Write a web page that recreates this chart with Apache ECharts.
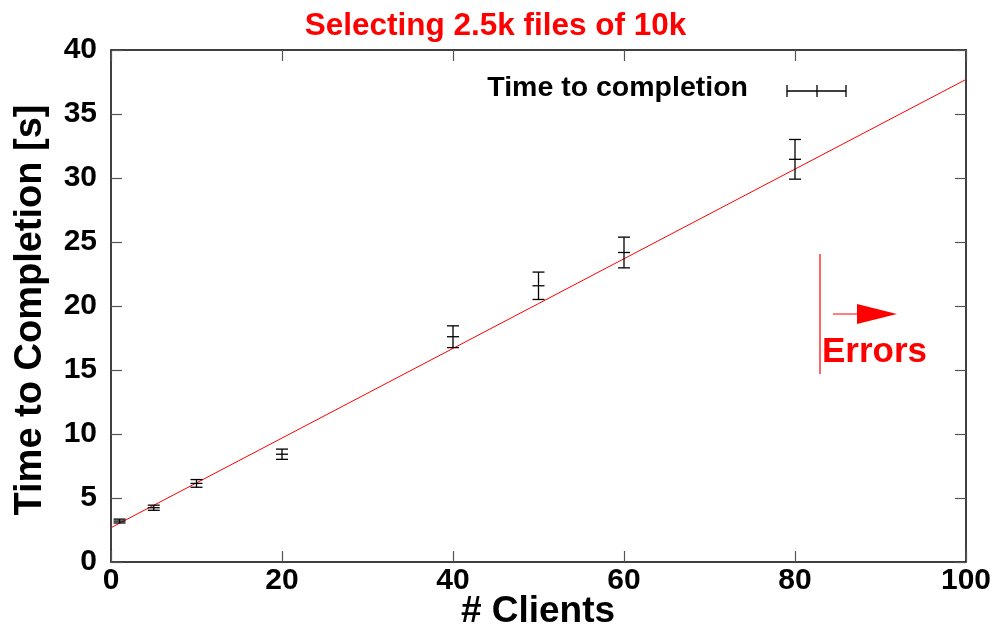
<!DOCTYPE html>
<html>
<head>
<meta charset="utf-8">
<script src="https://cdn.jsdelivr.net/npm/echarts@6/dist/echarts.min.js"></script>
<style>
  html, body { margin: 0; padding: 0; background: #fff; }
  #chart { width: 1000px; height: 629px; }
</style>
</head>
<body>
<div id="chart"></div>
<script>
// 数据：客户端数量、平均完成时间、误差
var clients = [1, 5, 10, 20, 40, 50, 60, 80];
var meanTime = [3.2, 4.24, 6.14, 8.42, 17.6, 21.58, 24.18, 31.46];
var errTime = [0.15, 0.2, 0.3, 0.4, 0.85, 1.07, 1.2, 1.55];

// 拟合直线
var fitX = [0, 100];
var fitY = [2.68, 37.7];

var FONT = '"Liberation Sans", Arial, sans-serif';

var chart = echarts.init(document.getElementById('chart'));

var barData = clients.map(function (c, i) {
    return [c, meanTime[i], meanTime[i] - errTime[i], meanTime[i] + errTime[i]];
});

// 误差棒绘制
function renderErrorBar(params, api) {
    var x = api.value(0);
    var mid = api.coord([x, api.value(1)]);
    var lo = api.coord([x, api.value(2)]);
    var hi = api.coord([x, api.value(3)]);
    var w = 6;
    var style = { stroke: '#000', lineWidth: 1.3 };
    return {
        type: 'group',
        children: [
            { type: 'line', shape: { x1: lo[0], y1: lo[1], x2: hi[0], y2: hi[1] }, style: style },
            { type: 'line', shape: { x1: lo[0] - w, y1: lo[1], x2: lo[0] + w, y2: lo[1] }, style: style },
            { type: 'line', shape: { x1: hi[0] - w, y1: hi[1], x2: hi[0] + w, y2: hi[1] }, style: style },
            { type: 'line', shape: { x1: mid[0] - w, y1: mid[1], x2: mid[0] + w, y2: mid[1] }, style: style }
        ]
    };
}

var tickStyle = { color: '#555', width: 1.2 };
var lineStyle = { color: '#000', width: 1.5 };

function mirrorAxis(type, pos, max, interval) {
    return {
        type: 'value', position: pos, min: 0, max: max, interval: interval,
        axisLine: { show: true, onZero: false, lineStyle: lineStyle },
        axisTick: { show: true, inside: true, length: 11, lineStyle: tickStyle },
        axisLabel: { show: false },
        splitLine: { show: false }
    };
}

var option = {
    backgroundColor: '#fff',
    animation: false,
    grid: { left: 111, right: 34, top: 50, bottom: 67, containLabel: false },
    xAxis: [{
        type: 'value', min: 0, max: 100, interval: 20,
        axisLine: { show: true, onZero: false, lineStyle: lineStyle },
        axisTick: { show: true, inside: true, length: 11, lineStyle: tickStyle },
        axisLabel: { fontSize: 30, fontWeight: 'bold', color: '#000', fontFamily: FONT, margin: 4 },
        splitLine: { show: false }
    }, mirrorAxis('x', 'top', 100, 20)],
    yAxis: [{
        type: 'value', min: 0, max: 40, interval: 5,
        axisLine: { show: true, onZero: false, lineStyle: lineStyle },
        axisTick: { show: true, inside: true, length: 11, lineStyle: tickStyle },
        axisLabel: { fontSize: 30, fontWeight: 'bold', color: '#000', fontFamily: FONT, margin: 14 },
        splitLine: { show: false }
    }, mirrorAxis('y', 'right', 40, 5)],
    series: [{
        name: 'Time to completion',
        type: 'custom',
        renderItem: renderErrorBar,
        encode: { x: 0, y: [1, 2, 3] },
        data: barData,
        z: 3
    }, {
        name: 'fit',
        type: 'line',
        data: fitX.map(function (x, i) { return [x, fitY[i]]; }),
        symbol: 'none',
        lineStyle: { color: '#ff0000', width: 1 },
        z: 2
    }],
    graphic: [
        // 标题
        {
            type: 'text', x: 495.5, y: 26,
            style: { text: 'Selecting 2.5k files of 10k', font: 'bold 31.5px ' + FONT, fill: '#ff0000',
                     align: 'center', verticalAlign: 'middle' }
        },
        // 坐标轴名称
        {
            type: 'text', x: 538, y: 612,
            style: { text: '# Clients', font: 'bold 37px ' + FONT, fill: '#000',
                     align: 'center', verticalAlign: 'middle' },
            z: 10
        },
        {
            type: 'text', x: 31, y: 310, rotation: Math.PI / 2,
            style: { text: 'Time to Completion [s]', font: 'bold 38px ' + FONT, fill: '#000',
                     align: 'center', verticalAlign: 'middle' },
            z: 10
        },
        // 图例
        {
            type: 'text', x: 748, y: 88,
            style: { text: 'Time to completion', font: 'bold 28.5px ' + FONT, fill: '#000',
                     align: 'right', verticalAlign: 'middle' }
        },
        { type: 'line', shape: { x1: 787, y1: 91, x2: 846, y2: 91 }, style: { stroke: '#000', lineWidth: 1.3 } },
        { type: 'line', shape: { x1: 787, y1: 85, x2: 787, y2: 97 }, style: { stroke: '#000', lineWidth: 1.3 } },
        { type: 'line', shape: { x1: 846, y1: 85, x2: 846, y2: 97 }, style: { stroke: '#000', lineWidth: 1.3 } },
        { type: 'line', shape: { x1: 817, y1: 85, x2: 817, y2: 97 }, style: { stroke: '#000', lineWidth: 1.3 } },
        // Errors 标注
        { type: 'line', shape: { x1: 820, y1: 254, x2: 820, y2: 374 }, style: { stroke: '#ff0000', lineWidth: 1.2 } },
        { type: 'line', shape: { x1: 833, y1: 314, x2: 858, y2: 314 }, style: { stroke: '#ff0000', lineWidth: 1 } },
        { type: 'polygon', shape: { points: [[857, 304], [897, 314], [857, 324]] }, style: { fill: '#ff0000' } },
        {
            type: 'text', x: 822, y: 352,
            style: { text: 'Errors', font: 'bold 35px ' + FONT, fill: '#ff0000', align: 'left', verticalAlign: 'middle' }
        }
    ]
};

chart.setOption(option);
</script>
</body>
</html>
